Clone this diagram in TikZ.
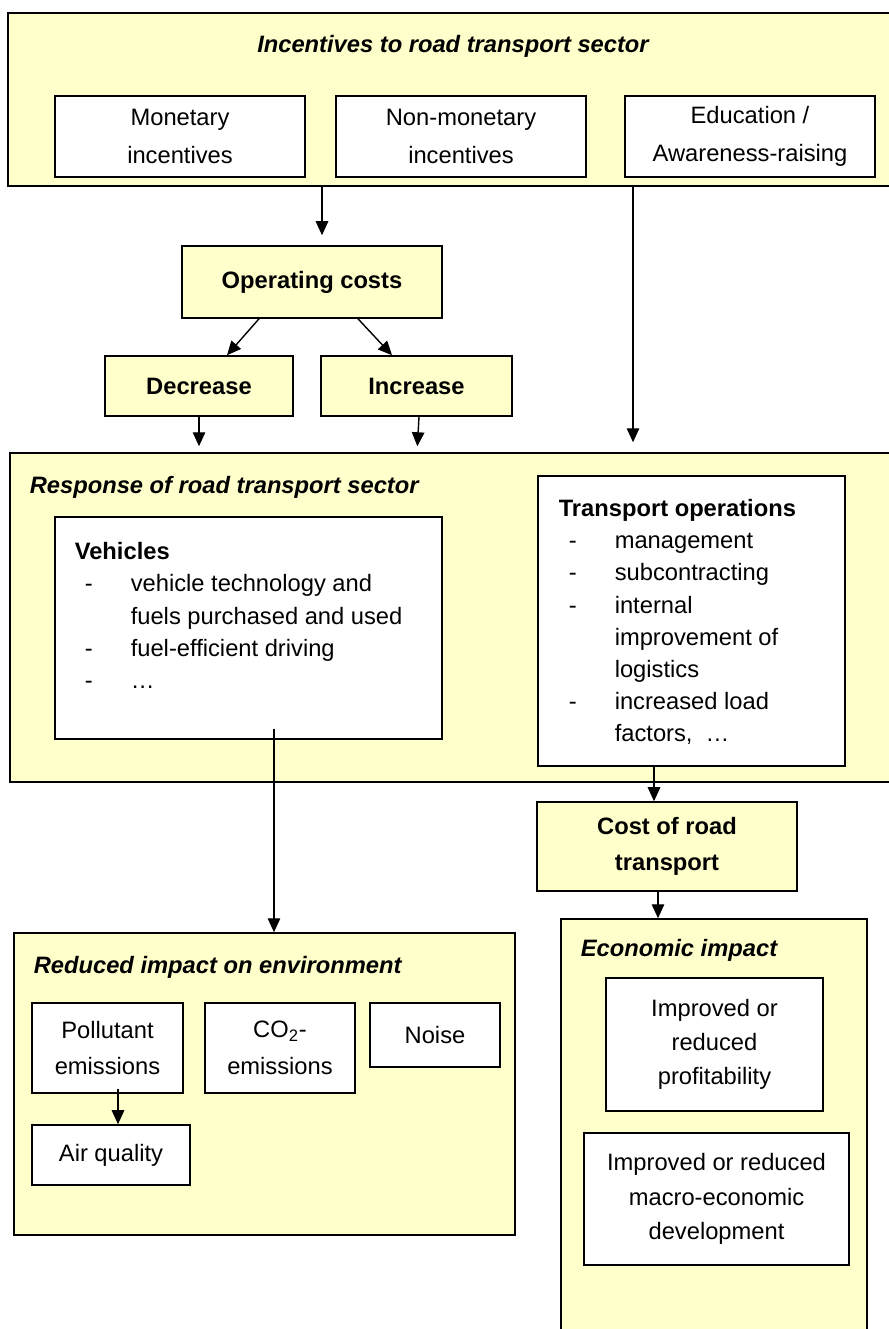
\documentclass[tikz,border=0pt]{standalone}
\usepackage{xcolor}
\usepackage{fontspec}
\setmainfont{Liberation Sans}
\usepackage{tikz}
\usetikzlibrary{arrows.meta, positioning, calc}

\definecolor{paleyellow}{HTML}{FFFFCC}
\newcommand{\txtfont}{\fontsize{13.5}{21}\selectfont}
\newcommand{\lstfont}{\fontsize{13.5}{18.3}\selectfont}
\newcommand{\dashitem}[1]{\makebox[1.12cm][l]{\hspace{0.2cm}-}#1}
\newcommand{\contline}[1]{\hspace*{1.12cm}#1}

\begin{document}
\begin{tikzpicture}[x=0.02cm, y=-0.02cm, line width=0.9pt,
    panel/.style={rectangle, draw, fill=paleyellow},
    ybox/.style={rectangle, draw, fill=paleyellow, align=center, font=\txtfont\bfseries},
    wbox/.style={rectangle, draw, fill=white, align=center, font=\txtfont},
    hdr/.style={font=\txtfont\bfseries\itshape, anchor=west, inner sep=0pt},
    arr/.style={-{Triangle[width=0.25cm,length=0.28cm]}, line width=0.8pt}]
    \clip (0,0) rectangle (889,1329);

    % Incentivi
    \node[panel,minimum width=17.84cm,minimum height=3.46cm] (incent) at (454,99.5) {};
    \node[font=\txtfont\bfseries\itshape] at (453,46) {Incentives to road transport sector};
    \node[wbox,minimum width=5cm,minimum height=1.62cm,font=\fontsize{13.5}{22}\selectfont] (monet) at (180,136.5) {Monetary\\incentives};
    \node[wbox,minimum width=5cm,minimum height=1.62cm,font=\fontsize{13.5}{22}\selectfont] (nonmonet) at (461,136.5) {Non-monetary\\incentives};
    \node[wbox,minimum width=5cm,minimum height=1.62cm,font=\fontsize{13.5}{22}\selectfont] (educ) at (750,136.5) {Education /\\Awareness-raising};

    % Costi operativi
    \node[ybox,minimum width=5.2cm,minimum height=1.44cm] (opcost) at (312,282) {Operating costs};
    \node[ybox,minimum width=3.76cm,minimum height=1.2cm] (decr) at (199,386) {Decrease};
    \node[ybox,minimum width=3.82cm,minimum height=1.2cm] (incr) at (416.5,386) {Increase};

    % Risposta del settore
    \node[panel,minimum width=17.8cm,minimum height=6.58cm] (resp) at (455,617.5) {};
    \node[hdr] at (29,487) {Response of road transport sector};
    \node[wbox,minimum width=7.74cm,minimum height=4.44cm] (veh) at (248.5,628) {};
    \node[font=\lstfont,align=left,anchor=west,inner sep=0pt] at (74,615.5) {
        \textbf{Vehicles}\\
        \dashitem{vehicle technology and}\\
        \contline{fuels purchased and used}\\
        \dashitem{fuel-efficient driving}\\
        \dashitem{…}
    };
    \node[wbox,minimum width=6.14cm,minimum height=5.8cm] (tops) at (691.5,621) {};
    \node[font=\lstfont,align=left,anchor=west,inner sep=0pt] at (558,622) {
        \textbf{Transport operations}\\
        \dashitem{management}\\
        \dashitem{subcontracting}\\
        \dashitem{internal}\\
        \contline{improvement of}\\
        \contline{logistics}\\
        \dashitem{increased load}\\
        \contline{factors,\ \ …}
    };

    % Costo del trasporto
    \node[ybox,minimum width=5.2cm,minimum height=1.78cm,font=\fontsize{13.5}{20.5}\selectfont\bfseries] (cost) at (667,846.5) {Cost of road\\transport};

    % Impatto ambientale
    \node[panel,minimum width=10.02cm,minimum height=6.04cm] (env) at (264.5,1084) {};
    \node[hdr] at (33,967) {Reduced impact on environment};
    \node[wbox,minimum width=3.02cm,minimum height=1.8cm] (poll) at (107.5,1048) {Pollutant\\emissions};
    \node[wbox,minimum width=3cm,minimum height=1.8cm] (co2) at (280,1048) {CO\textsubscript{2}-\\emissions};
    \node[wbox,minimum width=2.6cm,minimum height=1.28cm] (noise) at (435,1035) {Noise};
    \node[wbox,minimum width=3.16cm,minimum height=1.2cm] (air) at (111,1155) {Air quality};

    % Impatto economico
    \node[panel,minimum width=6.12cm,minimum height=8.52cm] (econ) at (714,1132) {};
    \node[hdr] at (580,950) {Economic impact};
    \node[wbox,minimum width=4.34cm,minimum height=2.66cm,font=\fontsize{13.5}{19.5}\selectfont] (profit) at (714.5,1044.5) {Improved or\\reduced\\profitability};
    \node[wbox,minimum width=5.3cm,minimum height=2.64cm,font=\fontsize{13.5}{19.5}\selectfont] (macro) at (716.5,1199) {Improved or reduced\\macro-economic\\development};

    % Frecce
    \draw[arr,shorten >=0.2cm] ([xshift=0.2cm]opcost.north |- incent.south) -- ([xshift=0.2cm]opcost.north);
    \draw[arr,shorten >=0.2cm] ([xshift=-2.34cm]educ.south |- incent.south) -- ([xshift=-2.34cm]educ.south |- resp.north);
    \draw[arr] ([xshift=-1.06cm]opcost.south) -- ([xshift=0.56cm]decr.north);
    \draw[arr] ([xshift=0.92cm]opcost.south) -- ([xshift=-0.49cm]incr.north);
    \draw[arr,shorten >=0.12cm] (decr.south) -- (decr.south |- resp.north);
    \draw[arr,shorten >=0.12cm] ([xshift=0.05cm]incr.south) -- ([xshift=0.01cm]incr.south |- resp.north);
    \coordinate (vstart) at ([xshift=0.51cm,yshift=0.22cm]veh.south);
    \draw[arr] (vstart) -- (vstart |- env.north);
    \draw[arr] ([xshift=-0.75cm]tops.south) -- ([xshift=-0.75cm]tops.south |- cost.north);
    \draw[arr] ([xshift=-0.18cm]cost.south) -- ([xshift=-0.18cm]cost.south |- econ.north);
    \draw[arr] ([xshift=0.21cm,yshift=0.1cm]poll.south) -- ([xshift=0.21cm]poll.south |- air.north);
\end{tikzpicture}
\end{document}
